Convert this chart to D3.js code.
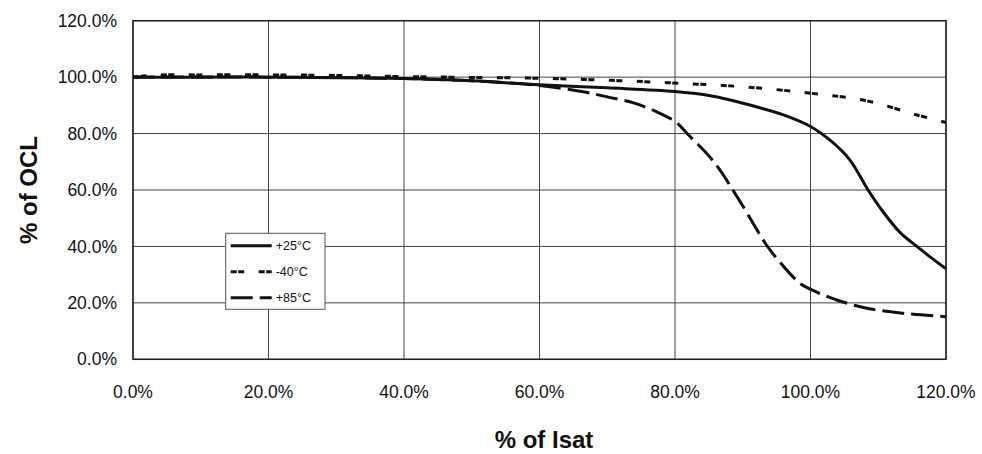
<!DOCTYPE html>
<html>
<head>
<meta charset="utf-8">
<script src="https://cdn.jsdelivr.net/npm/d3@7"></script>
<style>
  body { margin: 0; background: #fff; }
  text { font-family: "Liberation Sans", Arial, Helvetica, sans-serif; fill: #111; }
</style>
</head>
<body>
<svg width="982" height="454"></svg>
<script>
/* OCL vs Isat curves */

// tick values (percent)
const xTicks = [0, 20, 40, 60, 80, 100, 120];
const yTicks = [0, 20, 40, 60, 80, 100, 120];

// +25C, solid
const x25 = [0, 10, 20, 30, 40, 50, 60, 70, 80, 85, 88, 92, 96, 100, 103.1, 105.8, 108.5, 110.7, 113.2, 115.7, 117.6, 120];
const y25 = [100, 100, 100, 99.8, 99.5, 98.7, 97.3, 96.2, 94.9, 93.5, 92, 89.5, 86.6, 82.5, 77.2, 70.7, 60, 52.3, 45, 40, 36.4, 32.1];

// -40C, short dash
const xm40 = [0, 3, 10, 20, 30, 40, 50, 60, 70, 80, 90, 100, 108.3, 115.7, 120];
const ym40 = [100, 100.7, 100.8, 100.8, 100.6, 100.2, 99.9, 99.6, 98.9, 97.9, 96.6, 94.3, 91.6, 86.6, 83.9];

// +85C, long dash
const x85 = [0, 20, 40, 50, 60, 66, 70, 74, 77, 80, 82, 85.7, 89.3, 93.5, 95, 98.4, 100.2, 103.9, 108.3, 113.7, 120];
const y85 = [100, 100, 99.5, 98.7, 97, 95, 93, 90.8, 88, 84.3, 79.5, 70.1, 57.1, 40.5, 35.8, 27, 24.6, 21, 18.1, 16.3, 15.1];

const seriesNames = ["+25°C", "-40°C", "+85°C"];
const dashes = [null, "6,1.5,6,14.5", "22,7"];

var svg = d3.select("svg");
var plotLeft = 133, plotRight = 946, plotTop = 20.7, plotBottom = 359.3;

var x = d3.scaleLinear().domain([0, 120]).range([plotLeft, plotRight]);
var y = d3.scaleLinear().domain([0, 120]).range([plotBottom, plotTop]);

// grid
svg.append("g").selectAll("line").data(xTicks).join("line")
    .attr("x1", d => x(d)).attr("x2", d => x(d))
    .attr("y1", plotTop).attr("y2", plotBottom)
    .attr("stroke", "#444").attr("stroke-width", 1);
svg.append("g").selectAll("line").data(yTicks).join("line")
    .attr("x1", plotLeft).attr("x2", plotRight)
    .attr("y1", d => y(d)).attr("y2", d => y(d))
    .attr("stroke", "#444").attr("stroke-width", 1);

svg.append("rect")
    .attr("x", plotLeft).attr("y", plotTop)
    .attr("width", plotRight - plotLeft).attr("height", plotBottom - plotTop)
    .attr("fill", "none").attr("stroke", "#222").attr("stroke-width", 1.5);

// tick labels
svg.append("g").selectAll("text").data(yTicks).join("text")
    .attr("x", 117).attr("y", d => y(d))
    .attr("dy", "0.35em")
    .attr("text-anchor", "end")
    .style("font-size", "17.5px")
    .text(d => d.toFixed(1) + "%");
svg.append("g").selectAll("text").data(xTicks).join("text")
    .attr("x", d => x(d)).attr("y", 398)
    .attr("text-anchor", "middle")
    .style("font-size", "17.5px")
    .text(d => d.toFixed(1) + "%");

// axis titles
svg.append("text")
    .attr("x", 544).attr("y", 448)
    .attr("text-anchor", "middle")
    .style("font-size", "24px").style("font-weight", "bold")
    .text("% of Isat");
svg.append("text")
    .attr("transform", "translate(37,190) rotate(-90)")
    .attr("text-anchor", "middle")
    .style("font-size", "24px").style("font-weight", "bold")
    .text("% of OCL");

// curves
var line = d3.line()
    .x(d => x(d[0])).y(d => y(d[1]))
    .curve(d3.curveCatmullRom.alpha(0.5));

var series = [d3.zip(x25, y25), d3.zip(xm40, ym40), d3.zip(x85, y85)];
series.forEach(function(pts, i) {
    svg.append("path")
        .datum(pts)
        .attr("d", line)
        .attr("fill", "none")
        .attr("stroke", "#111")
        .attr("stroke-width", 3)
        .attr("stroke-dasharray", dashes[i]);
});

// legend
var lg = svg.append("g").attr("transform", "translate(225.7,233.3)");
lg.append("rect")
    .attr("width", 99.3).attr("height", 76)
    .attr("fill", "#fff").attr("stroke", "#555").attr("stroke-width", 1);
seriesNames.forEach(function(name, i) {
    var yy = 12.5 + i * 26;
    lg.append("line")
        .attr("x1", 5).attr("x2", 46)
        .attr("y1", yy).attr("y2", yy)
        .attr("stroke", "#111").attr("stroke-width", 3)
        .attr("stroke-dasharray", dashes[i]);
    lg.append("text")
        .attr("x", 50).attr("y", yy + 4.5)
        .style("font-size", "12.5px")
        .text(name);
});
</script>
</body>
</html>
